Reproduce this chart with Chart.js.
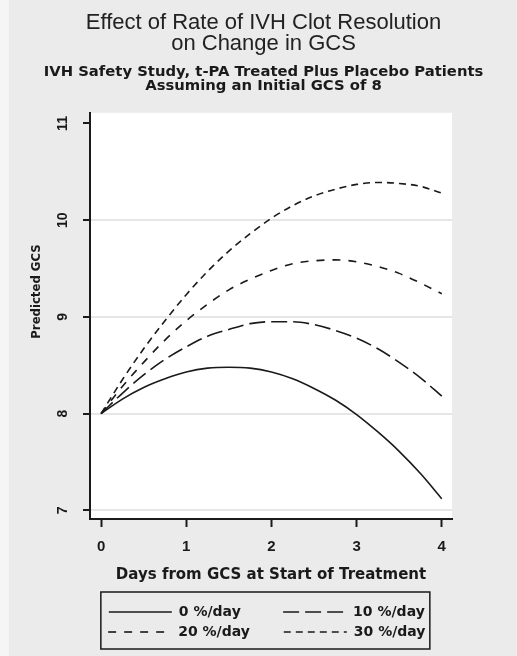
<!DOCTYPE html>
<html>
<head>
<meta charset="utf-8">
<script src="https://cdn.jsdelivr.net/npm/chart.js@4.4.1/dist/chart.umd.min.js"></script>
<style>
  html, body { margin: 0; padding: 0; background: #ebebeb; }
</style>
</head>
<body>
<canvas id="chart" width="517" height="656"></canvas>
<script>
// days since start of treatment
const days = [0, 0.25, 0.5, 0.75, 1, 1.25, 1.5, 1.75, 2, 2.25, 2.5, 2.75, 3, 3.25, 3.5, 3.75, 4];

// predicted GCS
const rate0 = [8.00, 8.15, 8.27, 8.36, 8.43, 8.47, 8.48, 8.47, 8.43, 8.36, 8.26, 8.14, 7.99, 7.81, 7.61, 7.38, 7.12];
const rate10 = [8.00, 8.21, 8.40, 8.56, 8.69, 8.80, 8.87, 8.93, 8.95, 8.95, 8.92, 8.86, 8.78, 8.67, 8.53, 8.37, 8.18];
const rate20 = [8.00, 8.28, 8.53, 8.76, 8.96, 9.13, 9.28, 9.39, 9.48, 9.55, 9.58, 9.59, 9.57, 9.52, 9.45, 9.35, 9.24];
const rate30 = [8.00, 8.35, 8.67, 8.96, 9.23, 9.47, 9.68, 9.86, 10.02, 10.15, 10.25, 10.32, 10.37, 10.39, 10.38, 10.35, 10.28];

const seriesNames = ['0 %/day', '10 %/day', '20 %/day', '30 %/day'];
const xTicks = [0, 1, 2, 3, 4];
const yTicks = [7, 8, 9, 10, 11];

const ink = '#1a1a1a';
const sans = '"Liberation Sans", Arial, sans-serif';
const wide = '"DejaVu Sans", Verdana, sans-serif';
const narrow = '"DejaVu Sans Condensed", "Liberation Sans Narrow", sans-serif';
Chart.defaults.font.family = sans;
Chart.defaults.color = ink;

// text column widths in the two-column legend
const colWidth = [99, 81, 99, 81];

function line(label, values, dash) {
    return {
        label: label,
        data: days.map((d, i) => ({x: d, y: values[i]})),
        borderColor: ink,
        borderWidth: 1.6,
        borderDash: dash,
        pointRadius: 0,
        fill: false,
        cubicInterpolationMode: 'monotone'
    };
}

const background = {
    id: 'background',
    beforeDraw(chart) {
        const {ctx, chartArea} = chart;
        ctx.save();
        ctx.fillStyle = '#ebebeb';
        ctx.fillRect(0, 0, chart.width, chart.height);
        ctx.fillStyle = '#f5f5f5';
        ctx.fillRect(0, 0, 9, chart.height);
        ctx.fillStyle = '#ffffff';
        ctx.fillRect(chartArea.left, chartArea.top, chartArea.right - chartArea.left, chartArea.bottom - chartArea.top);
        ctx.restore();
    }
};

const legendFrame = {
    id: 'legendFrame',
    afterDraw(chart) {
        const hb = chart.legend.legendHitBoxes;
        if (!hb || !hb.length) return;
        const left = hb[0].left - 8;
        const top = hb[0].top - 13;
        const bottom = hb[hb.length - 1].top + hb[hb.length - 1].height + 10;
        const ctx = chart.ctx;
        ctx.save();
        ctx.strokeStyle = ink;
        ctx.lineWidth = 1.5;
        ctx.strokeRect(left, top, 329, bottom - top);
        ctx.restore();
    }
};

new Chart(document.getElementById('chart'), {
    type: 'line',
    data: {
        datasets: [
            line(seriesNames[0], rate0, []),
            line(seriesNames[1], rate10, [16, 6]),
            line(seriesNames[2], rate20, [8, 8]),
            line(seriesNames[3], rate30, [7, 5])
        ]
    },
    options: {
        responsive: false,
        animation: false,
        devicePixelRatio: 1,
        layout: {padding: {left: 15, right: 5, top: 0, bottom: 7}},
        plugins: {
            title: {
                display: true,
                text: ['Effect of Rate of IVH Clot Resolution', 'on Change in GCS'],
                color: '#222',
                font: {size: 22, weight: 'normal', lineHeight: 0.96},
                padding: {top: 12.7, bottom: 0}
            },
            subtitle: {
                display: true,
                text: ['IVH Safety Study, t-PA Treated Plus Placebo Patients', 'Assuming an Initial GCS of 8'],
                color: ink,
                font: {family: wide, size: 14.8, weight: 'bold', lineHeight: 0.98},
                padding: {top: 9.6, bottom: 19.3}
            },
            legend: {
                position: 'bottom',
                fullSize: false,
                labels: {
                    usePointStyle: true,
                    pointStyle: 'line',
                    pointStyleWidth: 63,
                    padding: 6,
                    color: ink,
                    font: {family: wide, size: 14, weight: 'bold'},
                    generateLabels(chart) {
                        const ctx = chart.ctx;
                        ctx.save();
                        ctx.font = 'bold 14px ' + wide;
                        const w = s => ctx.measureText(s).width;
                        const items = Chart.defaults.plugins.legend.labels.generateLabels(chart);
                        items.forEach((it, i) => {
                            it.lineDash = chart.data.datasets[i].borderDash;
                            let t = it.text;
                            while (w(t + '\u2009') <= colWidth[i] + 1) t += '\u2009';
                            it.text = t;
                        });
                        ctx.restore();
                        return items;
                    }
                }
            },
            tooltip: {enabled: false}
        },
        scales: {
            x: {
                type: 'linear',
                min: -0.13,
                max: 4.12,
                afterBuildTicks: s => { s.ticks = xTicks.map(v => ({value: v})); },
                afterFit: s => { s.height = 80; },
                grid: {drawOnChartArea: false, tickLength: 8, tickWidth: 2, tickColor: ink},
                border: {color: ink, width: 2},
                ticks: {padding: 11, color: ink, font: {size: 15, weight: 'bold'}},
                title: {
                    display: true,
                    text: 'Days from GCS at Start of Treatment',
                    color: ink,
                    font: {family: wide, size: 15, weight: 'bold'},
                    padding: {top: 0, bottom: 15}
                }
            },
            y: {
                type: 'linear',
                min: 6.91,
                max: 11.11,
                afterBuildTicks: s => { s.ticks = yTicks.map(v => ({value: v})); },
                afterFit: s => { s.width = 75; },
                grid: {
                    color: c => (c.tick && c.tick.value === 11) ? 'rgba(0,0,0,0)' : '#e6e6e6',
                    lineWidth: 2,
                    tickLength: 7,
                    tickWidth: 2,
                    tickColor: ink
                },
                border: {color: ink, width: 2},
                ticks: {minRotation: 90, maxRotation: 90, crossAlign: 'center', padding: 12, color: ink, font: {size: 14, weight: 'bold'}},
                title: {
                    display: true,
                    text: '\u00a0'.repeat(12) + 'Predicted GCS',
                    color: ink,
                    font: {family: narrow, size: 13, weight: 'bold'},
                    padding: {top: 14.2, bottom: 0}
                }
            },
            // empty right-hand margin, so the titles centre on the whole graph
            y2: {
                position: 'right',
                display: true,
                afterFit: s => { s.width = 60; },
                grid: {display: false},
                border: {display: false},
                ticks: {display: false}
            }
        }
    },
    plugins: [background, legendFrame]
});
</script>
</body>
</html>
